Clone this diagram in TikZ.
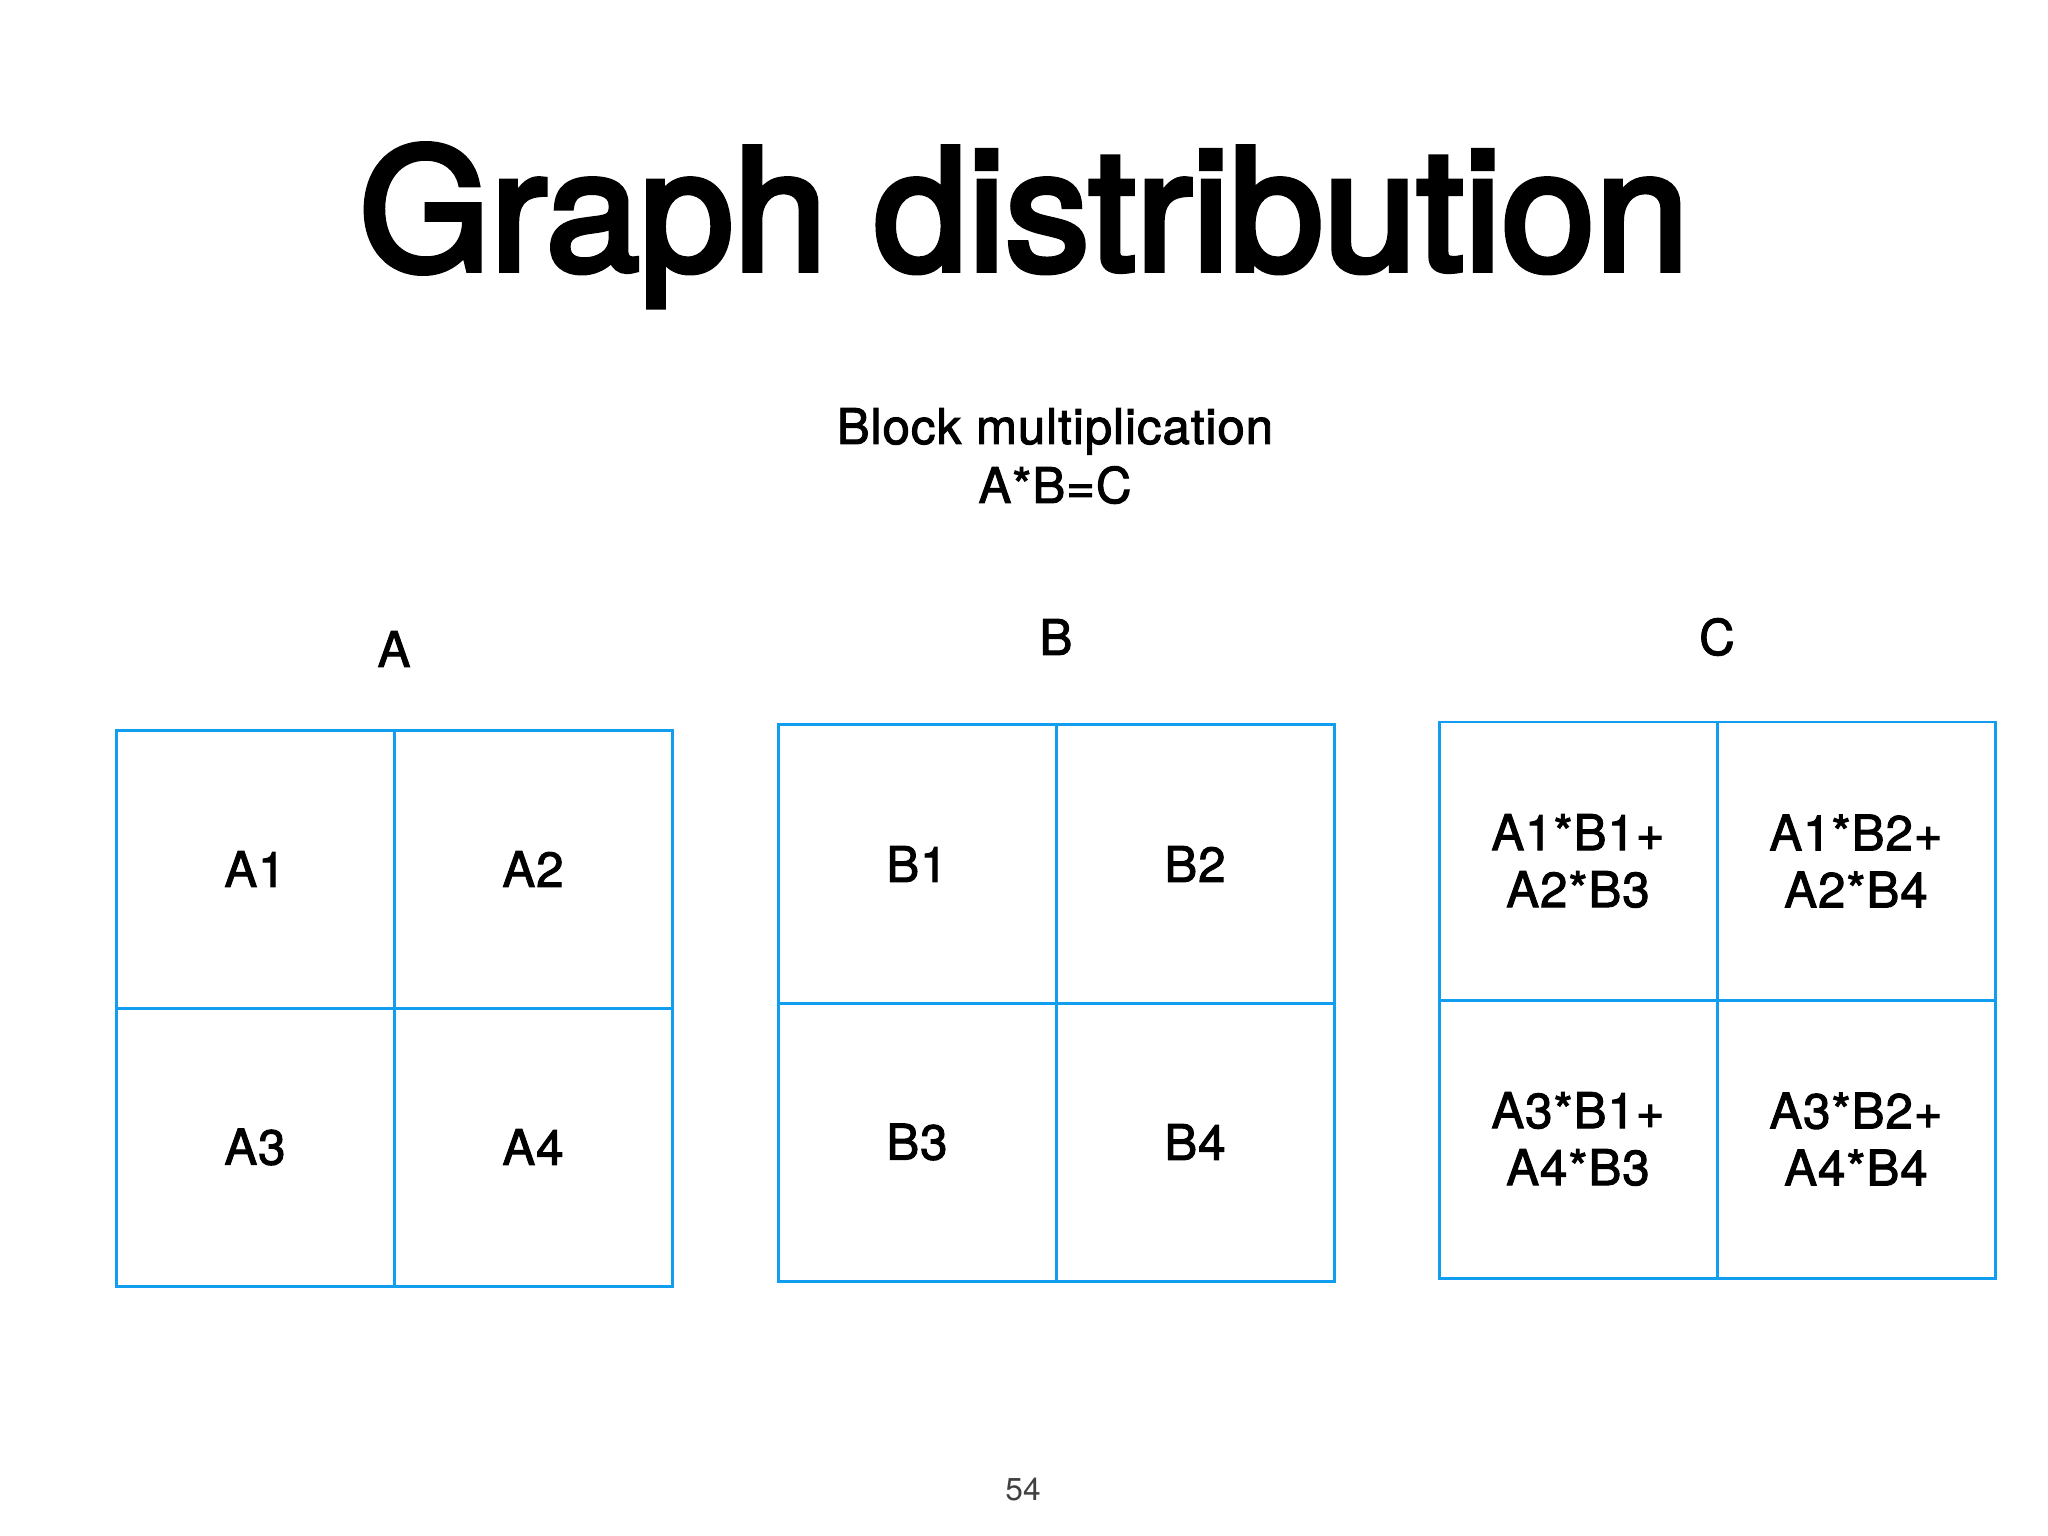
\documentclass[tikz,border=0pt]{standalone}
\usepackage{fontspec}
\setmainfont{TeX Gyre Heros}
\newfontfamily\titlefont[RawFeature={embolden=3.5}]{TeX Gyre Heros}
\newfontfamily\medfont[LetterSpace=2, RawFeature={embolden=2}]{TeX Gyre Heros}
\usepackage{tikz}
\usetikzlibrary{positioning}
\definecolor{gridblue}{RGB}{18,158,240}
\tikzstyle{cell} = [rectangle, minimum size=2.78cm, text centered, align=center, draw=gridblue, line width=0.03cm, font=\medfont\fontsize{14}{16.2}\selectfont]
\tikzstyle{heading} = [font=\medfont\fontsize{14}{16.2}\selectfont]
\tikzstyle{bigtitle} = [anchor=base, font=\titlefont\fontsize{48}{58}\selectfont]
\tikzstyle{pagenum} = [text=black!75, font=\fontsize{9}{11}\selectfont]

\begin{document}
\begin{tikzpicture}[node distance=2.78cm]
\fill[white] (0,0) rectangle (20.48,-15.36);
\useasboundingbox (0,0) rectangle (20.48,-15.36);
\node (title) [bigtitle] at (10.24,-2.70) {Graph distribution};
\node (sub1) [heading, anchor=base] at (10.55,-4.44) {Block multiplication};
\node (sub2) [heading, anchor=base] at (10.55,-5.03) {A*B=C};
\node (labA) [heading] at (3.94,-6.49) {A};
\node (labB) [heading] at (10.56,-6.37) {B};
\node (labC) [heading] at (17.17,-6.37) {C};
% matrix A
\node (a1) [cell] at (2.55,-8.69) {A1};
\node (a2) [cell, right of=a1] {A2};
\node (a3) [cell, below of=a1] {A3};
\node (a4) [cell, right of=a3] {A4};
% matrix B
\node (b1) [cell, right of=a2, xshift=1.06cm, yshift=0.05cm] {B1};
\node (b2) [cell, right of=b1] {B2};
\node (b3) [cell, below of=b1] {B3};
\node (b4) [cell, right of=b3] {B4};
% matrix C
\node (c1) [cell, right of=b2, xshift=1.05cm, yshift=0.03cm] {A1*B1+\\A2*B3};
\node (c2) [cell, right of=c1] {A1*B2+\\A2*B4};
\node (c3) [cell, below of=c1] {A3*B1+\\A4*B3};
\node (c4) [cell, right of=c3] {A3*B2+\\A4*B4};
\node (page) [pagenum] at (10.23,-14.895) {54};
\end{tikzpicture}
\end{document}
